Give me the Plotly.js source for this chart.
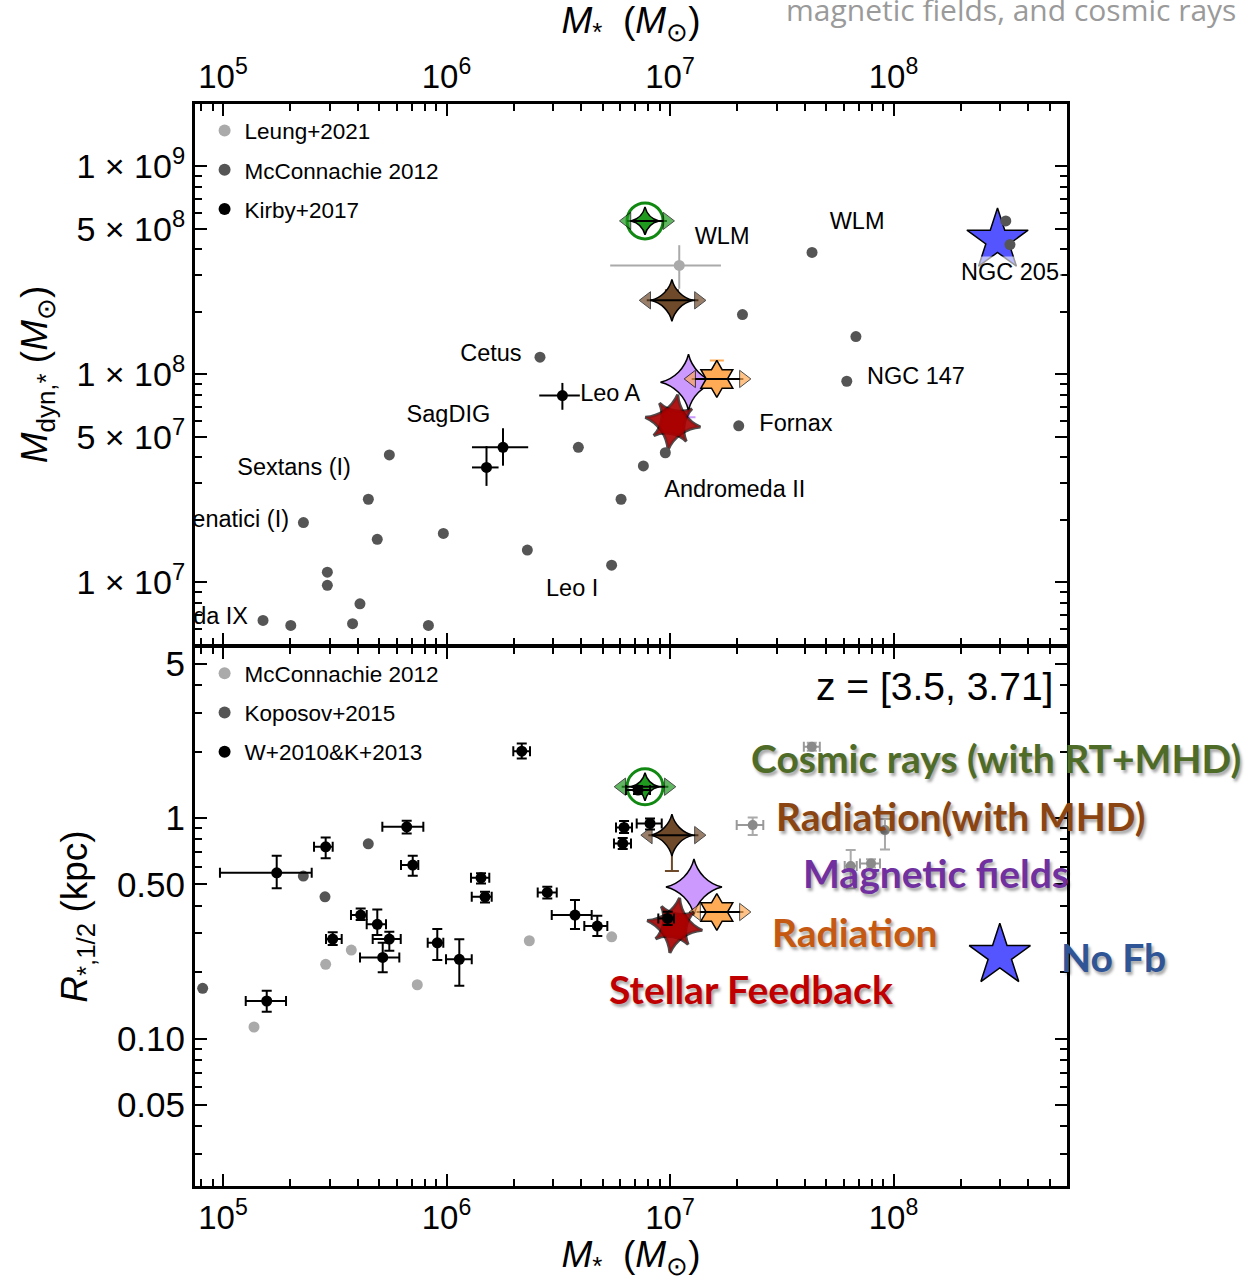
<!DOCTYPE html>
<html><head><meta charset="utf-8">
<script src="https://cdn.plot.ly/plotly-3.0.1.min.js"></script>
<style>html,body{margin:0;padding:0;background:#fff}</style>
</head><body>
<div id="chart" style="width:1256px;height:1280px"></div>
<script>
// ---------------- DATA ----------------
// Top panel: dynamical mass vs stellar mass
const mcc12TopMstar = [2.62e6, 3.89e6, 5.55e5, 6.04e6, 4.47e5, 2.29e5, 4.90e5, 9.68e5, 2.30e6, 5.48e6, 2.93e5, 2.93e5, 4.10e5, 1.51e5, 2.01e5, 3.80e5, 8.30e5, 6.79e7, 6.18e7, 2.03e7, 9.53e6, 7.60e6, 4.32e7, 2.11e7, 3.18e8, 3.32e8];
const mcc12TopMdyn  = [1.21e8, 4.46e7, 4.10e7, 2.51e7, 2.51e7, 1.94e7, 1.61e7, 1.72e7, 1.43e7, 1.21e7, 1.12e7, 9.68e6, 7.89e6, 6.56e6, 6.21e6, 6.33e6, 6.21e6, 1.52e8, 9.27e7, 5.66e7, 4.20e7, 3.63e7, 3.86e8, 1.94e8, 5.47e8, 4.21e8];

const leungMstar = [1.10e7], leungMstarLo = [5.40e6], leungMstarHi = [1.69e7];
const leungMdyn  = [3.34e8], leungMdynLo  = [2.58e8], leungMdynHi  = [4.18e8];

const kirbyMstar = [3.30e6, 1.79e6, 1.51e6], kirbyMstarLo = [2.60e6, 1.30e6, 1.30e6], kirbyMstarHi = [3.95e6, 2.32e6, 1.71e6];
const kirbyMdyn  = [7.91e7, 4.46e7, 3.57e7], kirbyMdynLo  = [6.76e7, 3.64e7, 2.91e7], kirbyMdynHi  = [9.10e7, 5.51e7, 4.52e7];

const topLabelText  = ['WLM', 'WLM', 'Cetus', 'Leo A', 'SagDIG', 'Sextans (I)', 'Canes Venatici (I)', 'Andromeda IX', 'Fornax', 'NGC 147', 'Andromeda II', 'Leo I'];
const topLabelMstar = [1.71e7, 6.87e7, 1.58e6, 5.40e6, 1.02e6, 2.08e5, 1.974e5, 1.294e5, 3.66e7, 1.26e8, 1.95e7, 3.65e6];
const topLabelMdyn  = [4.50e8, 5.31e8, 1.24e8, 7.96e7, 6.31e7, 3.51e7, 1.97e7, 6.71e6, 5.72e7, 9.62e7, 2.75e7, 9.15e6];
const topLabelPos   = ['middle center','middle center','middle center','middle center','middle center','middle center','middle left','middle left','middle center','middle center','middle center','middle center'];
const ngc205Label = 'NGC 205', ngc205Mstar = 3.32e8, ngc205Mdyn = 3.12e8;

// Bottom panel: half-light radius vs stellar mass
const mcc12BotMstar = [1.376e5, 2.88e5, 3.75e5, 7.40e5, 2.347e6, 5.484e6];
const mcc12BotR     = [0.1128, 0.2170, 0.2520, 0.1754, 0.2777, 0.2894];

const kop15Mstar = [4.468e5, 2.86e5, 8.11e4, 2.288e5];
const kop15R     = [0.7646, 0.4395, 0.1689, 0.5457];

const grayMstar = [4.31e7, 2.344e7, 9.16e7, 6.434e7, 7.932e7];
const grayMstarLo = [3.97e7, 1.988e7, 9.16e7, 6.05e7, 7.08e7];
const grayMstarHi = [4.68e7, 2.615e7, 9.16e7, 6.846e7, 8.70e7];
const grayR   = [2.105, 0.9296, 0.8823, 0.6057, 0.6231];
const grayRLo = [2.02, 0.8375, 0.7212, 0.48, 0.597];
const grayRHi = [2.195, 1.007, 0.9896, 0.7157, 0.65];

const wkMstar   = [1.569e5, 3.096e5, 4.130e5, 4.902e5, 5.548e5, 5.183e5, 9.095e5, 1.141e6, 3.757e6, 4.729e6, 2.171e6, 1.739e5, 2.88e5, 6.636e5, 7.062e5, 1.427e6, 1.487e6, 2.825e6, 6.228e6, 6.145e6, 8.139e6, 7.191e6, 9.765e6];
const wkMstarLo = [1.264e5, 2.890e5, 3.738e5, 4.395e5, 4.675e5, 4.102e5, 8.240e5, 9.95e5, 2.957e6, 4.136e6, 1.990e6, 9.69e4, 2.554e5, 5.163e5, 6.258e5, 1.287e6, 1.297e6, 2.559e6, 5.733e6, 5.615e6, 7.096e6, 6.356e6, 8.866e6];
const wkMstarHi = [1.914e5, 3.397e5, 4.395e5, 5.362e5, 6.240e5, 6.150e5, 9.676e5, 1.297e6, 4.463e6, 5.243e6, 2.364e6, 2.494e5, 3.096e5, 7.876e5, 7.478e5, 1.554e6, 1.593e6, 3.113e6, 6.761e6, 6.691e6, 9.183e6, 8.139e6, 1.042e7];
const wkR   = [0.148, 0.2826, 0.3632, 0.3296, 0.2826, 0.2334, 0.2719, 0.2287, 0.3632, 0.3237, 2.013, 0.5648, 0.7410, 0.9132, 0.6120, 0.5361, 0.4395, 0.4603, 0.9074, 0.7677, 0.9461, 1.340, 0.3508];
const wkRLo = [0.1322, 0.2655, 0.3447, 0.2946, 0.2501, 0.1996, 0.2270, 0.1736, 0.3137, 0.2916, 1.865, 0.4800, 0.6566, 0.8523, 0.5474, 0.5056, 0.4146, 0.4323, 0.855, 0.7233, 0.8887, 1.285, 0.3271];
const wkRHi = [0.1647, 0.3031, 0.3894, 0.3854, 0.3050, 0.2719, 0.3137, 0.2818, 0.4247, 0.3605, 2.182, 0.6745, 0.8176, 0.9722, 0.6745, 0.5614, 0.4632, 0.4882, 0.969, 0.8115, 0.9969, 1.397, 0.3759];

// Simulations
const simNames = ['Cosmic rays (with RT+MHD)', 'Radiation(with MHD)', 'Magnetic fields', 'Radiation', 'Stellar Feedback', 'No Fb'];
const simColors = ['#1f9a1f', '#6e4a2a', '#cc99ff', '#ffaa55', '#aa0000', '#5555ff'];
const simLabelColors = ['#4f6b28', '#8a4513', '#7030a0', '#c65911', '#c00000', '#2f5597'];
const simMstarTop = [7.73e6, 1.02e7, 1.21e7, 1.62e7, 1.03e7, 2.92e8];
const simMdynTop  = [5.47e8, 2.27e8, 9.17e7, 9.51e7, 5.89e7, 4.42e8];
const simMdynTopLo = [null, null, 6.22e7, null, null, null];
const simMdynTopHi = [null, 2.54e8, null, 1.166e8, null, null];
const simArrowLoTop = [6.42e6, 7.87e6, null, 1.25e7, null, null];
const simArrowHiTop = [9.69e6, 1.34e7, null, 2.13e7, null, null];
const simMstarBot = [7.73e6, 1.02e7, 1.28e7, 1.62e7, 1.05e7, 2.99e8];
const simRhalf    = [1.388, 0.837, 0.487, 0.375, 0.326, 0.238];
const simRhalfLo  = [null, 0.576, null, null, null, null];
const simRhalfHi  = [null, null, null, null, null, null];
const simArrowLoBot = [6.08e6, 8.0e6, null, 1.315e7, null, null];
const simArrowHiBot = [9.83e6, 1.34e7, null, 2.13e7, null, null];

const xTickVals = [1e5, 1e6, 1e7, 1e8];
const xTickText = ['10<sup>5</sup>', '10<sup>6</sup>', '10<sup>7</sup>', '10<sup>8</sup>'];
const yTopTickVals = [1e7, 5e7, 1e8, 5e8, 1e9];
const yTopTickText = ['1 × 10<sup>7</sup>', '5 × 10<sup>7</sup>', '1 × 10<sup>8</sup>', '5 × 10<sup>8</sup>', '1 × 10<sup>9</sup>'];
const yBotTickVals = [0.05, 0.1, 0.5, 1, 5];
const yBotTickText = ['0.05', '0.10', '0.50', '1', '5'];

// ---------------- BUILD ----------------
const FONT = 'Liberation Sans, Arial, Helvetica, sans-serif';
function minorVals(d0, d1, skip) {
  const out = [];
  for (let d = d0; d <= d1; d++) for (let m = 2; m <= 9; m++) {
    const v = m * Math.pow(10, d);
    if (!skip.some(s => Math.abs(s - v) / v < 1e-6)) out.push(v);
  }
  return out;
}
function errs(val, lo, hi, color, width) {
  return {type: 'data', symmetric: false, visible: true,
    array: hi.map((h, i) => h - val[i]), arrayminus: lo.map((l, i) => val[i] - l),
    color: color, thickness: 2, width: width};
}
const traces = [];

function simTraces(xs, ys, ylo, yhi, alo, ahi, xa, ya) {
  for (let i = 0; i < simNames.length; i++) {
    const c = simColors[i];
    const base = {xaxis: xa, yaxis: ya, showlegend: false, hoverinfo: 'skip', cliponaxis: false};
    let ey;
    if (ylo[i] !== null || yhi[i] !== null) {
      ey = {type: 'data', symmetric: false, array: [yhi[i] !== null ? yhi[i] - ys[i] : 0],
        arrayminus: [ylo[i] !== null ? ys[i] - ylo[i] : 0], color: c, thickness: 2, width: 7};
    }
    if (i === 4) {
      traces.push(Object.assign({}, base, {x: [xs[i], xs[i]], y: [ys[i], ys[i]], mode: 'markers',
        marker: {symbol: ['star-square', 'star-diamond'], size: [30, 40], angle: [10, 10], color: c, line: {color: 'black', width: 3}}}));
      traces.push(Object.assign({}, base, {x: [xs[i], xs[i]], y: [ys[i], ys[i]], mode: 'markers',
        marker: {symbol: ['star-square', 'star-diamond'], size: [30, 40], angle: [10, 10], color: c, line: {width: 0}}}));
      continue;
    }
    if (i === 0) {
      traces.push(Object.assign({}, base, {x: [xs[i]], y: [ys[i]], mode: 'markers',
        marker: {symbol: 'circle-open', size: 36, color: '#118811', line: {color: '#118811', width: 3}}}));
    }
    const sym = ['star-diamond', 'star-diamond', 'star-diamond', 'hexagram', '', 'star'][i];
    const sz = [20, 30, 40, 28, 0, 46][i];
    const t = Object.assign({}, base, {x: [xs[i]], y: [ys[i]], mode: 'markers',
      marker: {symbol: sym, size: sz, color: c, line: {color: 'black', width: 1.5}}});
    if (ey) t.error_y = ey;
    traces.push(t);
    if (alo[i] !== null) {
      traces.push(Object.assign({}, base, {x: [alo[i], ahi[i]], y: [ys[i], ys[i]], mode: 'lines',
        line: {color: 'black', width: 2}}));
      traces.push(Object.assign({}, base, {x: [alo[i], ahi[i]], y: [ys[i], ys[i]], mode: 'markers',
        marker: {symbol: ['triangle-left', 'triangle-right'], size: [15, 15], color: c, line: {color: 'black', width: 1}}}));
    }
  }
}

// Top panel
simTraces(simMstarTop, simMdynTop, simMdynTopLo, simMdynTopHi, simArrowLoTop, simArrowHiTop, 'x2', 'y2');
traces.push({x: leungMstar, y: leungMdyn, xaxis: 'x2', yaxis: 'y2', mode: 'markers', name: 'Leung+2021',
  legend: 'legend', legendgroup: 'a1', legendrank: 1,
  marker: {color: '#aaaaaa', size: 11}, error_x: errs(leungMstar, leungMstarLo, leungMstarHi, '#aaaaaa', 0),
  error_y: errs(leungMdyn, leungMdynLo, leungMdynHi, '#aaaaaa', 0)});
traces.push({x: mcc12TopMstar, y: mcc12TopMdyn, xaxis: 'x2', yaxis: 'y2', mode: 'markers', name: 'McConnachie 2012',
  legend: 'legend', legendgroup: 'a2', legendrank: 2, marker: {color: '#555555', size: 11}});
traces.push({x: kirbyMstar, y: kirbyMdyn, xaxis: 'x2', yaxis: 'y2', mode: 'markers', name: 'Kirby+2017',
  legend: 'legend', legendgroup: 'a3', legendrank: 3, marker: {color: '#000000', size: 11},
  error_x: errs(kirbyMstar, kirbyMstarLo, kirbyMstarHi, 'black', 0),
  error_y: errs(kirbyMdyn, kirbyMdynLo, kirbyMdynHi, 'black', 0)});
traces.push({x: topLabelMstar, y: topLabelMdyn, xaxis: 'x2', yaxis: 'y2', mode: 'text', text: topLabelText,
  textposition: topLabelPos, textfont: {family: FONT, size: 23.5, color: 'black'}, showlegend: false, hoverinfo: 'skip'});

// Bottom panel
simTraces(simMstarBot, simRhalf, simRhalfLo, simRhalfHi, simArrowLoBot, simArrowHiBot, 'x', 'y');
traces.push({x: mcc12BotMstar, y: mcc12BotR, xaxis: 'x', yaxis: 'y', mode: 'markers', name: 'McConnachie 2012',
  legend: 'legend2', legendgroup: 'b1', legendrank: 1, marker: {color: '#aaaaaa', size: 11}});
traces.push({x: kop15Mstar, y: kop15R, xaxis: 'x', yaxis: 'y', mode: 'markers', name: 'Koposov+2015',
  legend: 'legend2', legendgroup: 'b2', legendrank: 2, marker: {color: '#555555', size: 11}});
traces.push({x: grayMstar, y: grayR, xaxis: 'x', yaxis: 'y', mode: 'markers', showlegend: false,
  marker: {color: '#8a8a8a', size: 10}, error_x: errs(grayMstar, grayMstarLo, grayMstarHi, '#999999', 5),
  error_y: errs(grayR, grayRLo, grayRHi, '#aaaaaa', 5)});
traces.push({x: wkMstar, y: wkR, xaxis: 'x', yaxis: 'y', mode: 'markers', name: 'W+2010&K+2013',
  legend: 'legend2', legendgroup: 'b3', legendrank: 3, marker: {color: '#000000', size: 11},
  error_x: errs(wkMstar, wkMstarLo, wkMstarHi, 'black', 5), error_y: errs(wkR, wkRLo, wkRHi, 'black', 5)});

const axisCommon = {type: 'log', showline: true, linecolor: 'black', linewidth: 3, mirror: 'allticks',
  ticks: 'inside', ticklen: 12, tickwidth: 2, tickcolor: 'black', showgrid: false, zeroline: false,
  tickfont: {family: FONT, size: 33, color: 'black'}, tickmode: 'array', automargin: false};
const minorCommon = {tickmode: 'array', ticks: 'inside', ticklen: 7, tickwidth: 2, tickcolor: 'black', showgrid: false};
const titleFont = {family: FONT, size: 37, color: 'black'};

const layout = {
  width: 1256, height: 1280, paper_bgcolor: 'white', plot_bgcolor: 'white',
  margin: {l: 195, r: 189, t: 104, b: 94},
  showlegend: true,
  xaxis: Object.assign({}, axisCommon, {domain: [0, 1], anchor: 'y', side: 'bottom', range: [4.8747, 8.7763],
    tickvals: xTickVals, ticktext: xTickText, minor: Object.assign({}, minorCommon, {tickvals: minorVals(4, 8, [])}),
    title: {text: '<i>M</i><sub>*</sub>  (<i>M</i><sub>⊙</sub>)', font: titleFont, standoff: 6}}),
  xaxis2: Object.assign({}, axisCommon, {domain: [0, 1], anchor: 'y2', side: 'top', range: [4.8747, 8.7763],
    tickvals: xTickVals, ticktext: xTickText, minor: Object.assign({}, minorCommon, {tickvals: minorVals(4, 8, [])}),
    title: {text: '<i>M</i><sub>*</sub>  (<i>M</i><sub>⊙</sub>)', font: titleFont, standoff: 10}}),
  yaxis: Object.assign({}, axisCommon, {domain: [0, 0.498], anchor: 'x', range: [-1.669, 0.7755],
    tickvals: yBotTickVals, ticktext: yBotTickText, tickfont: {family: FONT, size: 35, color: 'black'},
    minor: Object.assign({}, minorCommon, {tickvals: minorVals(-2, 0, [0.05, 0.5, 5])}),
    title: {text: '<i>R</i><sub>*,1/2</sub> (kpc)', font: titleFont, standoff: 18}}),
  yaxis2: Object.assign({}, axisCommon, {domain: [0.5, 1], anchor: 'x2', range: [6.699, 9.30],
    tickvals: yTopTickVals, ticktext: yTopTickText, tickfont: {family: FONT, size: 34, color: 'black'},
    minor: Object.assign({}, minorCommon, {tickvals: minorVals(6, 8, [5e7, 5e8])}),
    title: {text: '<i>M</i><sub>dyn,*</sub> (<i>M</i><sub>⊙</sub>)', font: titleFont, standoff: 18}}),
  legend: {x: 0.011, y: 0.995, xanchor: 'left', yanchor: 'top', bgcolor: 'rgba(0,0,0,0)',
    font: {family: FONT, size: 22.5, color: 'black'}, itemsizing: 'constant', traceorder: 'grouped', tracegroupgap: 7},
  legend2: {x: 0.011, y: 0.4935, xanchor: 'left', yanchor: 'top', bgcolor: 'rgba(0,0,0,0)',
    font: {family: FONT, size: 22.5, color: 'black'}, itemsizing: 'constant', traceorder: 'grouped', tracegroupgap: 7},
  annotations: []
};

layout.annotations.push({xref: 'x2', yref: 'y2', x: Math.log10(ngc205Mstar), y: Math.log10(ngc205Mdyn),
  text: ngc205Label, showarrow: false, font: {family: FONT, size: 23.5, color: 'black'},
  bgcolor: 'rgba(255,255,255,0.6)', borderpad: 2});
layout.annotations.push({xref: 'paper', yref: 'paper', x: 0.986, y: 0.4621, xanchor: 'right', yanchor: 'middle',
  text: 'z = [3.5, 3.71]', showarrow: false, font: {family: FONT, size: 39, color: 'black'}});
layout.annotations.push({xref: 'paper', yref: 'paper', x: 0.9363, y: 1.0869, xanchor: 'center', yanchor: 'middle',
  text: 'magnetic fields, and cosmic rays', showarrow: false, font: {family: 'Open Sans, sans-serif', size: 30, color: '#9a9a9a'}});
const simLabelX = [0.9186, 0.8773, 0.8498, 0.7569, 0.6376, 1.0528];
const simLabelY = [0.3956, 0.342, 0.2893, 0.2347, 0.1821, 0.2116];
for (let i = 0; i < simNames.length; i++) {
  layout.annotations.push({xref: 'paper', yref: 'paper', x: simLabelX[i], y: simLabelY[i], xanchor: 'center', yanchor: 'middle',
    text: '<b>' + simNames[i] + '</b>', showarrow: false,
    font: {family: 'Lato, Open Sans, sans-serif', size: 39, weight: 'bold', color: simLabelColors[i], shadow: '2px 3px 3px rgba(0,0,0,0.35)'}});
}

Plotly.newPlot('chart', traces, layout, {displayModeBar: false, staticPlot: true});
</script></body></html>
